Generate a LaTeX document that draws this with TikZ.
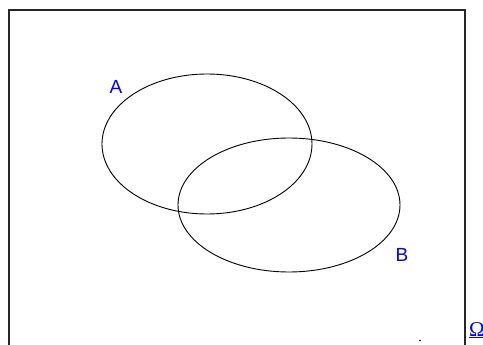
\documentclass[tikz,border=0pt]{standalone}
\usepackage{fontspec}
\setmainfont{Liberation Sans}
\newfontfamily\serifom{Liberation Serif}
\definecolor{lblue}{RGB}{0,0,255}
\begin{document}
\begin{tikzpicture}[x=1pt,y=-1pt,
  frame/.style={draw=black!85,line width=1.3pt},
  setline/.style={draw=black,line width=0.9pt},
  setlabel/.style={text=lblue,font=\fontsize{19}{21}\selectfont,inner sep=0pt}]
\useasboundingbox (0,0) rectangle (483,345);
\clip (0,0) rectangle (483,345);
\draw[frame] (9,345) -- (9,10) -- (465,10) -- (465,345);
\draw[setline] (207,144) ellipse [x radius=105, y radius=70];
\draw[setline] (289,205) ellipse [x radius=111, y radius=67];
\node[setlabel] (la) at (116,87) {A};
\node[setlabel] (lb) at (402,255) {B};
\fill[black] (420,340.5) circle (0.9);
\node[text=lblue,font=\serifom\fontsize{21}{23}\selectfont,inner sep=0pt,anchor=base west] (om) at (469,336) {\underline{Ω}};
\end{tikzpicture}
\end{document}
